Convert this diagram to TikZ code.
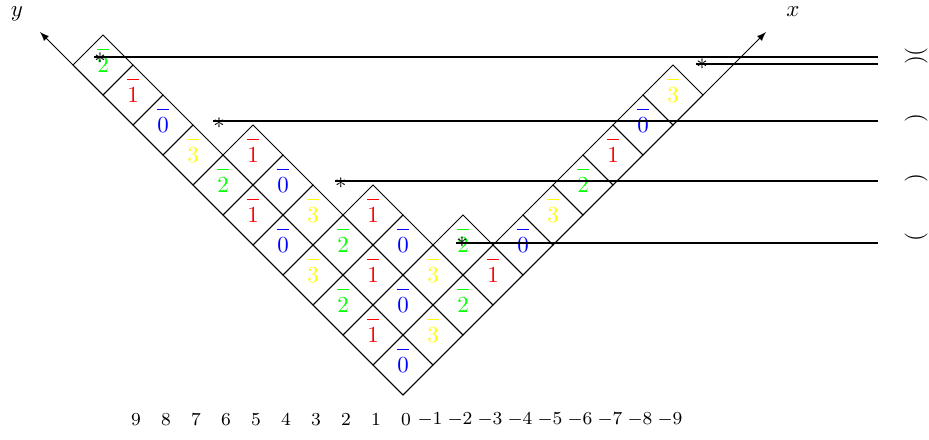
\documentclass[tikz,border=0pt]{standalone}
\usetikzlibrary{arrows}
\definecolor{lab0}{RGB}{0,0,255}
\definecolor{lab1}{RGB}{255,0,0}
\definecolor{lab2}{RGB}{0,255,0}
\definecolor{lab3}{RGB}{255,255,0}
\begin{document}
\begin{tikzpicture}[x=0.46cm,y=0.46cm,
  cellbox/.style={draw=black,line width=0.4pt},
  celltext/.style={anchor=base,yshift=-3.2pt,inner sep=0pt},
  hline/.style={line width=0.8pt},
  starnode/.style={inner sep=0pt,outer sep=0pt},
  paren/.style={rotate=90,inner sep=0pt},
  numlab/.style={font=\footnotesize,inner sep=1pt},
  axisarrow/.style={-latex,line width=0.4pt}]
\useasboundingbox (-13.433,-1.467) rectangle (17.533,13.167);
% rotated frame
\begin{scope}[x={(0.46cm,0.46cm)},y={(-0.46cm,0.46cm)}]
  \coordinate (O) at (0,0);
  \coordinate (xend) at (12.1,0);
  \coordinate (yend) at (0,12.1);
  \foreach \b/\len in {0/10,1/4,2/3,3/3,4/2,5/2,6/2,7/1,8/1,9/1,10/1}{
    \foreach \a in {1,...,\len}{
      \pgfmathtruncatemacro\k{mod(\b-\a+1+40,4)}
      \pgfmathtruncatemacro\aa{\a-1}
      \draw[cellbox] (\a-1,\b) -- (\a,\b) -- (\a,\b+1) -- (\a-1,\b+1) -- cycle;
      \node[celltext,text=lab\k] (c-\aa-\b) at (\a-0.5,\b+0.5) {$\k$};
      \fill[fill=lab\k] ([xshift=-2.55pt,yshift=9.65pt]c-\aa-\b.base) rectangle ([xshift=2.55pt,yshift=10.2pt]c-\aa-\b.base);
    }
  }
  \draw[axisarrow] (O) -- (xend);
  \draw[axisarrow] (O) -- (yend);
\end{scope}
\node (xlab) at (13.0,12.77) {$x$};
\node (ylab) at (-12.87,12.7) {$y$};
% stars
\node[starnode] (sA) at (-10.1,11.22) {$*$};
\node[starnode] (sB) at (9.97,11.03) {$*$};
\node[starnode] (sC) at (-6.13,9.07) {$*$};
\node[starnode] (sD) at (-2.07,7.07) {$*$};
\node[starnode] (sE) at (1.97,5.1) {$*$};
% line ends
\coordinate (eA) at (15.83,11.27);
\coordinate (eB) at (15.83,11.03);
\coordinate (eC) at (15.83,9.12);
\coordinate (eD) at (15.83,7.13);
\coordinate (eE) at (15.83,5.08);
\draw[hline] (sA.west |- eA) -- (eA);
\draw[hline] (sB.west |- eB) -- (eB);
\draw[hline] (sC.west |- eC) -- (eC);
\draw[hline] (sD.west |- eD) -- (eD);
\draw[hline] (sE.west |- eE) -- (eE);
% rotated parentheses
\node[paren] (pA) at (17.1,11.42) {(};
\node[paren] (pB) at (17.1,11.15) {)};
\node[paren] (pC) at (17.1,9.22) {)};
\node[paren] (pD) at (17.1,7.22) {)};
\node[paren] (pE) at (17.1,5.25) {(};
% bottom numbers
\foreach \c in {9,8,...,0}{
  \node[numlab] (n\c) at (-\c+0.1,-0.83) {$\c$};
}
\foreach \c in {-1,-2,...,-9}{
  \node[numlab] (n\c) at (-\c-0.1,-0.83) {$\c$};
}
\end{tikzpicture}
\end{document}
